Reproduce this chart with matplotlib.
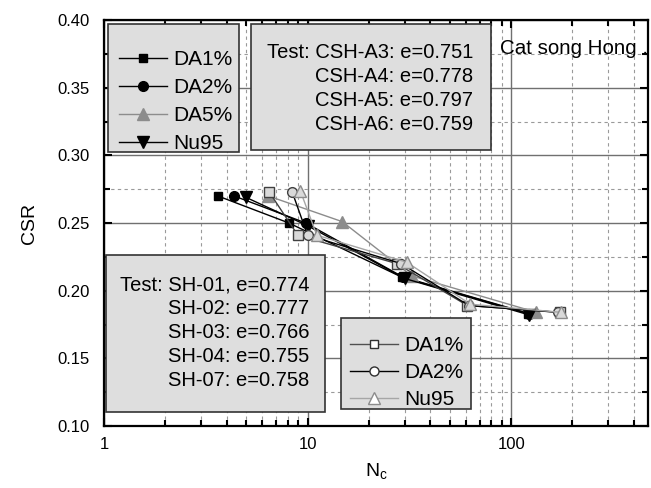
import matplotlib.pyplot as plt
import numpy as np
from matplotlib.lines import Line2D
from matplotlib.patches import Rectangle
from matplotlib.ticker import FixedLocator, FormatStrFormatter, NullFormatter

plt.rcParams['font.family'] = ['Liberation Sans', 'DejaVu Sans']

# CSH tests (filled markers)
csh_labels = ["DA1%", "DA2%", "DA5%", "Nu95"]
csh_n = [
    [3.62, 8.1, 29.0, 121.0],
    [4.35, 9.8, 29.5, 123.0],
    [6.4, 14.8, 32.4, 133.0],
    [4.97, 10.0, 30.0, 123.0],
]
csh_csr = [
    [0.270, 0.250, 0.210, 0.183],
    [0.270, 0.250, 0.210, 0.183],
    [0.270, 0.251, 0.211, 0.184],
    [0.269, 0.248, 0.209, 0.182],
]

# SH tests (open markers)
sh_labels = ["DA1%", "DA2%", "Nu95"]
sh_n = [
    [6.47, 8.95, 27.4, 61.0, 174.0],
    [8.4, 10.0, 28.8, 62.0, 170.0],
    [9.2, 11.1, 30.7, 63.0, 175.0],
]
sh_csr = [
    [0.273, 0.241, 0.220, 0.189, 0.184],
    [0.273, 0.241, 0.220, 0.189, 0.184],
    [0.274, 0.241, 0.221, 0.190, 0.184],
]

csh_text = ["Test: CSH-A3: e=0.751", "CSH-A4: e=0.778",
            "CSH-A5: e=0.797", "CSH-A6: e=0.759"]
sh_text = ["Test: SH-01, e=0.774", "SH-02: e=0.777", "SH-03: e=0.766",
           "SH-04: e=0.755", "SH-07: e=0.758"]

W, H = 651, 488


def fx(x):
    return x / W


def fy(y):
    return 1 - y / H


fig = plt.figure(figsize=(6.51, 4.88), dpi=100)
ax = fig.add_axes([fx(104), fy(426), fx(648) - fx(104), fy(20) - fy(426)])

# filled series
csh_style = [
    dict(marker="s", color="black", mfc="black", mec="black", ms=6),
    dict(marker="o", color="black", mfc="black", mec="black", ms=7),
    dict(marker="^", color="#8c8c8c", mfc="#8c8c8c", mec="#8c8c8c", ms=8),
    dict(marker="v", color="black", mfc="black", mec="black", ms=8),
]
csh_lines = []
for n, c, lab, st in zip(csh_n, csh_csr, csh_labels, csh_style):
    ln, = ax.plot(n, c, lw=1.0, label=lab, zorder=3, **st)
    csh_lines.append(ln)

# open series
sh_style = [
    dict(marker="s", color="#404040", mfc="#d9d9d9", mec="#404040", ms=6.5),
    dict(marker="o", color="black", mfc="#d9d9d9", mec="#404040", ms=7),
    dict(marker="^", color="#a6a6a6", mfc="#d9d9d9", mec="#8c8c8c", ms=8.5),
]
for n, c, st in zip(sh_n, sh_csr, sh_style):
    ax.plot(n, c, lw=1.0, zorder=3, **st)
sh_handles = [
    Line2D([], [], marker="s", color="#505050", mfc="white", mec="#303030",
           ms=6, lw=1.0),
    Line2D([], [], marker="o", color="black", mfc="white", mec="#303030",
           ms=6.5, lw=1.0),
    Line2D([], [], marker="^", color="#a6a6a6", mfc="white", mec="#8c8c8c",
           ms=8, lw=1.0),
]

ax.set_xscale("log")
ax.set_xlim(1, 470)
ax.set_ylim(0.10, 0.40)
ax.xaxis.set_major_locator(FixedLocator([1, 10, 100]))
ax.xaxis.set_major_formatter(FormatStrFormatter("%g"))
minor_x = [m * 10 ** d for d in range(3) for m in range(2, 10)]
ax.xaxis.set_minor_locator(FixedLocator(minor_x))
ax.xaxis.set_minor_formatter(NullFormatter())
ax.yaxis.set_major_locator(FixedLocator(np.arange(0.10, 0.401, 0.05)))
ax.yaxis.set_major_formatter(FormatStrFormatter("%.2f"))
ax.yaxis.set_minor_locator(FixedLocator(np.arange(0.125, 0.40, 0.05)))

ax.grid(which="major", color="#707070", lw=1.0, ls="-", zorder=0)
ax.grid(which="minor", color="#9a9a9a", lw=0.8, ls=(0, (3, 3)), zorder=0)
ax.set_axisbelow(True)
ax.tick_params(which="both", direction="in", top=True, right=True,
               labelsize=12, width=1.5)
ax.tick_params(which="major", length=6)
ax.tick_params(which="minor", length=4)
ax.tick_params(axis="y", pad=10)
ax.tick_params(axis="x", pad=8)
for sp in ax.spines.values():
    sp.set_linewidth(1.6)

ax.set_ylabel("CSR", fontsize=14, labelpad=14)
ax.set_xlabel("N$_\\mathregular{c}$", fontsize=14, labelpad=7)

# boxes (legends + notes)
boxes = [(108, 24, 239, 152), (251, 24, 491, 150),
         (106, 255, 325, 412), (341, 318, 471, 409)]
for (x0, y0, x1, y1) in boxes:
    ax.add_patch(Rectangle((fx(x0), fy(y1)), fx(x1) - fx(x0), fy(y0) - fy(y1),
                           transform=fig.transFigure, facecolor="#dedede",
                           edgecolor="#333333", lw=1.2, zorder=5,
                           clip_on=False))

leg_kw = dict(frameon=False, fontsize=15, handlelength=2.3,
              handletextpad=0.3, borderaxespad=0, borderpad=0,
              bbox_transform=fig.transFigure)
leg1 = ax.legend(handles=csh_lines, loc="upper left",
                 bbox_to_anchor=(fx(119), fy(50)), labelspacing=0.43,
                 **leg_kw)
leg1.set_zorder(6)
ax.add_artist(leg1)
leg2 = ax.legend(sh_handles, sh_labels, loc="upper left",
                 bbox_to_anchor=(fx(350), fy(336)), labelspacing=0.39,
                 **leg_kw)
leg2.set_zorder(6)

for i, t in enumerate(csh_text):
    fig.text(fx(473), fy(52 + 24.3 * i), t, ha="right", va="center",
             fontsize=14.5, zorder=7)
for i, t in enumerate(sh_text):
    fig.text(fx(309), fy(285 + 24 * i), t, ha="right", va="center",
             fontsize=14.5, zorder=7)

fig.text(fx(500), fy(48), "Cat song Hong .", ha="left", va="center",
         fontsize=14.8, zorder=7)

fig.savefig("out.png", dpi=100)
